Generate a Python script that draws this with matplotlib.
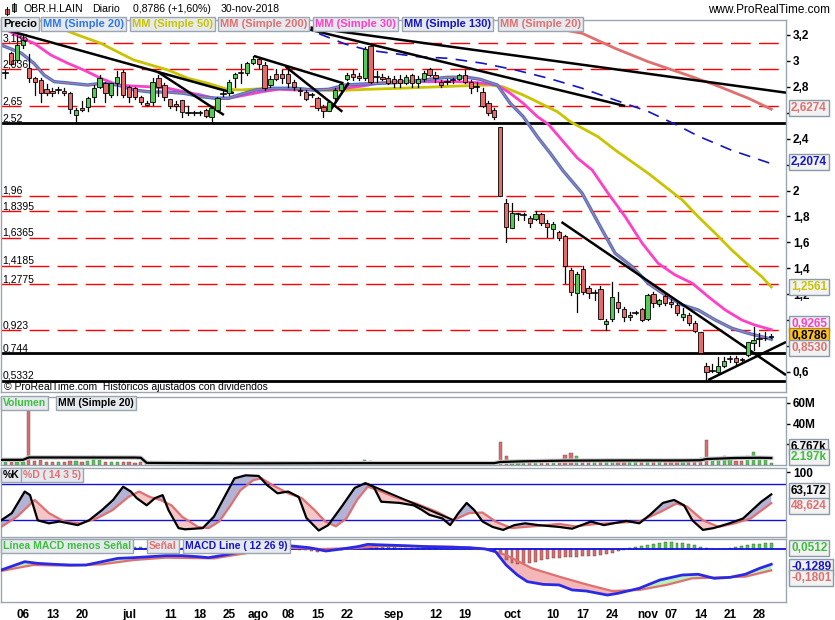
import numpy as np
import matplotlib
matplotlib.use('Agg')
import matplotlib.pyplot as plt
from matplotlib.patches import Rectangle

# ---------------- DATA ----------------
title_sym = "OBR.H.LAIN"
title_period = "Diario"
title_price = "0,8786 (+1,60%)"
title_date = "30-nov-2018"

# bar index 0 = 1-jun-2018 ... 130 = 30-nov-2018
tick_idx = [3, 8, 13, 21, 28, 33, 38, 43, 48, 53, 58, 66, 73, 78, 86, 93, 98, 103, 109, 113, 118, 123, 128]
tick_lbl = ["06", "13", "20", "jul", "11", "18", "25", "ago", "08", "15", "22", "sep", "12", "19",
            "oct", "10", "17", "24", "nov", "07", "14", "21", "28"]

opens = [2.904, 3.06, 3.007, 3.12, 2.943, 2.866, 2.853, 2.781, 2.77, 2.776, 2.77, 2.75, 2.583, 2.64, 2.647,
         2.724, 2.801, 2.827, 2.737, 2.827, 2.917, 2.801, 2.79, 2.724, 2.678, 2.686, 2.866, 2.814, 2.704, 2.665,
         2.698, 2.596, 2.596, 2.60, 2.621, 2.57, 2.621, 2.745, 2.75, 2.866, 2.904, 2.904, 2.982, 3.013, 2.968,
         2.814, 2.899, 2.899, 2.899, 2.84, 2.775, 2.763, 2.737, 2.716, 2.642, 2.616, 2.712, 2.776, 2.858, 2.899,
         2.88, 2.866, 3.115, 2.878, 2.878, 2.866, 2.858, 2.858, 2.832, 2.891, 2.832, 2.858, 2.935, 2.891, 2.84,
         2.84, 2.85, 2.858, 2.891, 2.84, 2.80, 2.763, 2.673, 2.621, 2.488, 1.901, 1.708, 1.818, 1.81, 1.786,
         1.778, 1.819, 1.752, 1.701, 1.68, 1.652, 1.387, 1.207, 1.392, 1.245, 1.21, 1.239, 0.97, 1.009, 1.142,
         1.084, 1.022, 1.058, 1.084, 1.007, 1.202, 1.124, 1.189, 1.142, 1.117, 1.027, 1.04, 0.981, 0.908, 0.646,
         0.607, 0.597, 0.648, 0.698, 0.706, 0.70, 0.731, 0.821, 0.854, 0.86, 0.872]
highs = [2.93, 3.07, 3.19, 3.19, 3.05, 2.875, 2.87, 2.82, 2.79, 2.80, 2.79, 2.76, 2.64, 2.69, 2.725,
         2.815, 2.89, 2.84, 2.83, 2.92, 2.93, 2.81, 2.80, 2.73, 2.69, 2.866, 2.89, 2.83, 2.71, 2.69,
         2.70, 2.65, 2.61, 2.615, 2.63, 2.645, 2.72, 2.77, 2.85, 2.91, 2.98, 2.99, 3.035, 3.02, 2.99,
         2.88, 2.94, 2.93, 2.93, 2.855, 2.79, 2.776, 2.75, 2.724, 2.66, 2.70, 2.79, 2.83, 2.91, 2.93,
         2.91, 3.11, 3.13, 2.92, 2.90, 2.88, 2.88, 2.89, 2.89, 2.90, 2.88, 2.92, 2.945, 2.915, 2.855,
         2.86, 2.87, 2.90, 2.93, 2.85, 2.84, 2.79, 2.69, 2.635, 2.488, 1.934, 1.906, 1.83, 1.83, 1.80,
         1.84, 1.83, 1.77, 1.76, 1.685, 1.66, 1.40, 1.37, 1.415, 1.26, 1.235, 1.26, 1.01, 1.298, 1.22,
         1.10, 1.065, 1.07, 1.09, 1.20, 1.22, 1.165, 1.20, 1.16, 1.135, 1.09, 1.055, 0.99, 0.91, 0.67,
         0.66, 0.713, 0.715, 0.72, 0.72, 0.71, 0.833, 0.95, 0.90, 0.91, 0.89]
lows = [2.866, 2.97, 2.99, 3.10, 2.84, 2.737, 2.686, 2.74, 2.73, 2.75, 2.74, 2.596, 2.519, 2.615, 2.61,
        2.68, 2.79, 2.686, 2.72, 2.74, 2.72, 2.686, 2.71, 2.67, 2.65, 2.66, 2.73, 2.70, 2.64, 2.62,
        2.57, 2.58, 2.58, 2.585, 2.57, 2.525, 2.61, 2.73, 2.737, 2.80, 2.83, 2.89, 2.98, 2.945, 2.776,
        2.80, 2.85, 2.83, 2.80, 2.776, 2.74, 2.70, 2.72, 2.62, 2.57, 2.61, 2.69, 2.77, 2.85, 2.85,
        2.85, 2.85, 2.83, 2.84, 2.85, 2.82, 2.80, 2.80, 2.82, 2.80, 2.80, 2.845, 2.88, 2.84, 2.80,
        2.82, 2.83, 2.85, 2.83, 2.75, 2.765, 2.645, 2.585, 2.55, 1.958, 1.605, 1.708, 1.77, 1.77, 1.72,
        1.77, 1.735, 1.644, 1.645, 1.62, 1.284, 1.195, 1.065, 1.205, 1.17, 1.155, 1.005, 0.924, 0.99, 1.06,
        0.99, 1.0, 1.045, 0.995, 1.0, 1.10, 1.11, 1.12, 1.10, 1.04, 1.0, 0.96, 0.91, 0.744, 0.538,
        0.60, 0.59, 0.64, 0.68, 0.66, 0.685, 0.72, 0.77, 0.80, 0.85, 0.86]
closes = [2.904, 2.98, 3.123, 3.16, 2.866, 2.835, 2.75, 2.75, 2.755, 2.776, 2.755, 2.627, 2.621, 2.625, 2.712,
          2.789, 2.866, 2.75, 2.827, 2.878, 2.737, 2.724, 2.724, 2.686, 2.66, 2.84, 2.801, 2.724, 2.652, 2.65,
          2.608, 2.596, 2.596, 2.60, 2.575, 2.634, 2.712, 2.745, 2.84, 2.899, 2.904, 2.982, 3.013, 2.976, 2.789,
          2.858, 2.858, 2.866, 2.827, 2.801, 2.765, 2.706, 2.737, 2.634, 2.616, 2.686, 2.776, 2.822, 2.891, 2.878,
          2.865, 3.092, 2.84, 2.878, 2.86, 2.83, 2.832, 2.832, 2.878, 2.827, 2.858, 2.904, 2.891, 2.866, 2.814,
          2.84, 2.85, 2.891, 2.84, 2.789, 2.80, 2.652, 2.596, 2.565, 1.958, 1.716, 1.829, 1.818, 1.81, 1.747,
          1.819, 1.747, 1.716, 1.742, 1.63, 1.418, 1.215, 1.356, 1.22, 1.212, 1.21, 1.009, 0.993, 1.176, 1.091,
          1.022, 1.04, 1.058, 1.001, 1.194, 1.13, 1.155, 1.135, 1.122, 1.053, 1.046, 0.975, 0.916, 0.744, 0.602,
          0.607, 0.646, 0.685, 0.698, 0.675, 0.69, 0.829, 0.847, 0.854, 0.865, 0.8786]

volumes = [2.5, 3.0, 2.5, 2.8, 53, 4, 5, 3, 2.5, 3, 2.5, 4, 3.5, 3, 3.5, 9, 5, 3, 3, 2.5, 3, 2.5, 2, 2.5,
           1.2, 1.0, 1.5, 1.2, 1.0, 0.8, 1.4, 0.9, 0.7, 0.8, 1.1, 1.6, 1.3, 0.9, 1.0, 1.2, 0.8, 1.5, 1.0, 0.9,
           1.3, 1.1, 0.7, 0.9, 1.0, 1.2, 0.8, 0.9, 1.4, 1.1, 0.8, 1.0, 1.2, 0.9, 1.3, 1.0,
           1.5, 5, 4, 2,
           1.2, 1.0, 1.4, 0.9, 1.1, 1.3, 1.0, 1.5, 1.2, 0.9, 1.0, 1.1, 0.8, 1.2, 1.4, 1.0, 1.6, 1.8, 2.0, 2.2,
           22.5, 9, 4, 2.5, 2, 2.5, 2.5, 3, 3, 3.5, 5, 10, 12, 9, 5, 4, 3.5, 5, 6, 5, 4, 3.5, 3, 3, 4, 6, 4, 3,
           3.5, 3, 4, 3.5, 4, 5, 7, 24, 7, 6, 9, 5, 4, 4, 9, 13, 8, 5, 2.2]
volma_i = [-0.7, 3, 4, 22, 23, 24, 40, 60, 83, 84, 88, 95, 105, 115, 118, 119, 124, 128, 130]
volma_v = [5.0, 5.0, 7.3, 7.2, 7.0, 2.0, 1.6, 1.8, 1.8, 2.9, 3.6, 4.2, 4.4, 4.4, 4.6, 5.8, 6.8, 7.0, 6.77]

# moving averages (bar position, value)
ma20_i = [-0.7, 2.7, 4.9, 6.6, 8.3, 10.6, 14.0, 16.2, 19.1, 21.8, 24.7, 27.6, 30.3, 33.2, 35.7, 37.9, 39.6,
          42.5, 45.4, 49.3, 52.2, 54.9, 57.7, 60.6, 63.3, 66.2, 71.0, 75.0, 78.4, 80.6, 82.3, 83.5, 85.7, 87.9,
          90.3, 92.5, 94.7, 97.9, 101.3, 103.5, 106.4, 109.1, 112.0, 114.9, 117.6, 120.5, 123.3, 126.1, 128.4, 130]
ma20_v = [3.123, 3.06, 2.98, 2.89, 2.84, 2.83, 2.814, 2.827, 2.814, 2.776, 2.76, 2.76, 2.75, 2.724, 2.712,
          2.712, 2.737, 2.776, 2.789, 2.789, 2.776, 2.781, 2.814, 2.822, 2.827, 2.832, 2.853, 2.874, 2.874, 2.858,
          2.832, 2.814, 2.673, 2.57, 2.415, 2.287, 2.15, 1.979, 1.695, 1.516, 1.412, 1.284, 1.194, 1.117, 1.078,
          1.001, 0.937, 0.898, 0.872, 0.853]
ma30_i = [-0.7, 3.2, 4.9, 7.7, 10.6, 13.3, 16.2, 19.1, 21.8, 24.7, 27.6, 30.3, 33.2, 35.4, 37.9, 40.8, 43.7,
          46.4, 49.3, 52.2, 54.9, 57.7, 60.6, 63.3, 66.2, 71.0, 76.7, 80.1, 83.5, 85.7, 87.9, 90.3, 92.2, 95.4,
          97.1, 99.6, 102.3, 105.2, 108.1, 110.8, 113.7, 116.6, 119.3, 122.2, 125.0, 127.2, 130]
ma30_v = [3.26, 3.167, 3.136, 3.046, 2.982, 2.93, 2.866, 2.814, 2.806, 2.80, 2.789, 2.763, 2.737, 2.712, 2.712,
          2.737, 2.763, 2.781, 2.776, 2.776, 2.781, 2.789, 2.806, 2.827, 2.84, 2.84, 2.84, 2.832, 2.814, 2.75,
          2.673, 2.57, 2.51, 2.34, 2.25, 2.158, 1.979, 1.798, 1.593, 1.438, 1.348, 1.284, 1.181, 1.078, 1.001,
          0.962, 0.9265]
ma50_i = [-0.7, 6.0, 12.3, 16.2, 21.8, 27.6, 31.0, 34.4, 37.7, 40.0, 44.5, 50.1, 55.7, 61.5, 67.1, 71.0, 76.7,
          82.3, 84.5, 87.9, 90.8, 93.7, 95.9, 100.6, 103.5, 109.1, 114.9, 117.6, 120.5, 123.3, 126.1, 128.4, 130]
ma50_v = [3.42, 3.31, 3.2, 3.136, 3.007, 2.93, 2.866, 2.827, 2.781, 2.776, 2.789, 2.781, 2.77, 2.781, 2.789,
          2.796, 2.806, 2.814, 2.80, 2.737, 2.673, 2.608, 2.531, 2.415, 2.313, 2.133, 1.927, 1.798, 1.67, 1.541,
          1.425, 1.335, 1.2561]
ma200_i = [75, 80.6, 84.0, 97.9, 103.5, 109.1, 114.9, 120.5, 126.1, 130]
ma200_v = [3.45, 3.37, 3.33, 3.213, 3.097, 2.994, 2.904, 2.814, 2.712, 2.6274]
ma130_i = [50.1, 53.8, 57.7, 61.5, 69.9, 75.2, 81.0, 86.6, 92.2, 97.9, 103.5, 109.1, 114.2, 117.6, 123.3, 130]
ma130_v = [3.27, 3.2, 3.13, 3.084, 3.033, 3.02, 2.982, 2.93, 2.866, 2.789, 2.698, 2.61, 2.50, 2.42, 2.31, 2.2074]

# horizontal levels
dash_levels = [3.136, 2.936, 2.65, 1.96, 1.8395, 1.6365, 1.4185, 1.2775, 0.923]
solid_levels = [2.52, 0.744, 0.5332]
level_labels = {3.136: "3,136", 2.936: "2,936", 2.65: "2,65", 2.52: "2,52", 1.96: "1,96", 1.8395: "1,8395",
                1.6365: "1,6365", 1.4185: "1,4185", 1.2775: "1,2775", 0.923: "0,923", 0.744: "0,744",
                0.5332: "0,5332"}

# price axis ticks (labels hidden where the value boxes cover them in the original)
price_ticks = [3.2, 3.0, 2.8, 2.6, 2.4, 2.2, 2.0, 1.8, 1.6, 1.4, 1.2, 1.0, 0.8, 0.6]
price_tick_lbl = ["3,2", "3", "2,8", "", "2,4", "", "2", "1,8", "1,6", "1,4", "1,2", "", "", "0,6"]

# trend lines ((i0, p0), (i1, p1))
trendlines = [((-0.7, 3.25), (38.8, 2.752)), ((25.9, 2.915), (37.1, 2.583)), ((42.2, 3.038), (57.4, 2.827)),
              ((47.6, 2.955), (57.2, 2.608)), ((55.2, 2.621), (58.3, 2.833)), ((51.8, 3.258), (132.5, 2.755)),
              ((51.8, 3.24), (105.2, 2.652)), ((94.4, 1.757), (132.5, 0.576)), ((119.3, 0.538), (132.5, 0.831))]

# stochastic
k_i = [-0.7, 1.1, 3.3, 4.2, 5.5, 7.4, 9.2, 12.3, 14.2, 16.4, 18.3, 20, 21.3, 22.3, 24, 25.4, 26.7, 27.7, 29.4,
       30.5, 33.5, 35.4, 37.2, 38.9, 40.8, 43, 44.4, 46.2, 48, 49.8, 51.1, 53.2, 54.8, 57.1, 59.3, 61.1, 62.5,
       63.8, 66.9, 69.3, 70.6, 72, 74.2, 75.5, 76.9, 78.3, 79.6, 81, 82.7, 84.5, 86.4, 88.2, 90.5, 94, 96.2, 99.4,
       101.6, 105.4, 107.6, 109.4, 111.6, 113.5, 115.2, 116.6, 118.4, 120.2, 122.9, 125.2, 128.3, 130]
k_v = [20, 32, 68, 62, 20, 15, 18, 12, 20, 37, 54, 76, 68, 57, 45, 57, 62, 37, 7, 5, 7, 26, 59, 90, 95, 94, 79,
       65, 68, 59, 24, 3, 12, 43, 74, 82, 76, 51, 49, 45, 38, 29, 23, 12, 32, 49, 37, 18, 9, 4, 12, 15, 12, 9, 6,
       18, 12, 19, 15, 29, 49, 54, 45, 20, 4, 7, 15, 23, 51, 63.172]
d_i = [-0.7, 2, 5, 7.4, 10, 12.8, 15.5, 18.2, 20.9, 22.7, 24.5, 26.3, 28.2, 30, 32.7, 34.5, 36.3, 38.1, 39.9,
       42.1, 43.5, 45.3, 48, 50.3, 52.5, 54.3, 56.1, 57.9, 59.7, 61.5, 63.3, 66, 69.7, 73.3, 76, 78.7, 81, 83.2,
       85.9, 89.5, 94, 96.7, 100.4, 104, 107.6, 111.2, 113.9, 115.7, 118.4, 121.1, 123.8, 126.5, 130]
d_v = [9, 26, 54, 32, 18, 15, 23, 37, 59, 68, 59, 54, 45, 26, 9, 7, 18, 43, 70, 87, 90, 79, 65, 57, 37, 18, 10,
       23, 54, 76, 70, 59, 48, 34, 20, 32, 33, 18, 7, 10, 14, 10, 14, 16, 18, 34, 48, 43, 20, 9, 15, 23, 48.624]
stoch_trend = ((61.5, 80.5), (76, 20.5))

# MACD
macd_i = [-0.7, 3.3, 5.5, 8.3, 11, 13.7, 16.4, 19.1, 21.8, 24.5, 27.2, 30, 32.7, 34.5, 37.2, 40.8, 44.4, 48.1,
          51.6, 54.4, 57.1, 59.8, 61.5, 64.2, 67.9, 71.5, 76, 78.8, 81.5, 83.2, 85, 86.9, 88.6, 91.3, 94, 96.2,
          98.6, 102.2, 104, 107.6, 111.1, 114.9, 117.6, 120.3, 123, 125.6, 128, 130]
macd_v = [-0.177, -0.107, -0.121, -0.129, -0.135, -0.135, -0.107, -0.079, -0.073, -0.065, -0.056, -0.056, -0.065,
          -0.073, -0.051, -0.017, 0.011, 0.028, 0.011, -0.017, 0.0, 0.02, 0.039, 0.034, 0.028, 0.02, 0.014, 0.011,
          0.0, -0.022, -0.135, -0.219, -0.275, -0.298, -0.303, -0.345, -0.354, -0.388, -0.373, -0.331, -0.261,
          -0.219, -0.213, -0.247, -0.239, -0.213, -0.163, -0.1289]
sig_i = [-0.7, 4.7, 11, 16.4, 21.8, 27.2, 35.4, 40.8, 48.1, 53.5, 58.8, 64.2, 76, 81.5, 85, 89.4, 94, 98.6, 103,
         107.6, 112.2, 116.6, 120.3, 125.6, 130]
sig_v = [-0.185, -0.135, -0.14, -0.129, -0.093, -0.073, -0.079, -0.036, 0.011, 0.0, 0.006, 0.025, 0.02, 0.0,
         -0.051, -0.163, -0.233, -0.298, -0.354, -0.345, -0.303, -0.247, -0.241, -0.233, -0.1801]
hist = [0.008, 0.03, 0.04, 0.045, 0.04, 0.03, 0.02, 0.015, 0.01, 0.005, 0.0, 0.0, -0.002, 0.0, 0.01, 0.02,
        0.025, 0.03, 0.03, 0.025, 0.02, 0.02, 0.02, 0.015, 0.01, 0.01, 0.01, 0.015, 0.01, 0.01, 0.005, 0.0,
        -0.005, -0.008, -0.006, 0.0, 0.01, 0.025, 0.03, 0.035, 0.035, 0.03, 0.03, 0.025, 0.02, 0.02, 0.018,
        0.015, 0.01, 0.005,
        -0.005, -0.012, -0.018, -0.022, -0.02, -0.015, -0.012, -0.008, -0.004, 0.004,
        0.008, 0.015, 0.02, 0.02, 0.018, 0.016, 0.014, 0.012, 0.01, 0.01, 0.008, 0.006, 0.006, 0.006, 0.004,
        0.002, 0.002, -0.002, 0.002, -0.002, 0.001, -0.002, -0.004,
        -0.01, -0.045, -0.09, -0.12, -0.13, -0.13, -0.12, -0.11, -0.095, -0.085, -0.08, -0.075, -0.07, -0.068,
        -0.065, -0.062, -0.058, -0.055, -0.05, -0.045, -0.035, -0.02, -0.005,
        0.006, 0.014, 0.025, 0.035, 0.045, 0.052, 0.056, 0.056, 0.054, 0.048, 0.04, 0.03, 0.017, 0.008,
        0.004, -0.004, -0.003, 0.006, 0.014, 0.022, 0.03, 0.038, 0.045, 0.05, 0.0512]

# ---------------- STYLE / LAYOUT ----------------
W, H = 835, 620
XMIN, XMAX = -0.73, 132.5
GREEN = '#55c855'
RED = '#e26b6b'
SALMON = '#e07070'
BLUE20 = '#2f78e6'
YELLOW = '#c9c400'
MAGENTA = '#ff3fc8'
DBLUE = '#1414c8'
FRAME = '#9aa5b0'
BOXBG = '#e6eaef'

plt.rcParams['font.family'] = ['Liberation Sans', 'DejaVu Sans']
fig = plt.figure(figsize=(W / 100, H / 100), dpi=100)
fig.patch.set_facecolor('white')


def px_axes(l, t, r, b):
    ax = fig.add_axes([l / W, 1 - b / H, (r - l) / W, (b - t) / H])
    for s in ax.spines.values():
        s.set_color(FRAME)
        s.set_linewidth(1)
    ax.set_xlim(XMIN, XMAX)
    ax.tick_params(axis='x', bottom=False, labelbottom=False)
    ax.yaxis.tick_right()
    ax.tick_params(axis='y', right=True, length=3, width=1, colors='black', labelsize=8.5, pad=2)
    return ax


def ftext(x, y, s, **kw):
    return fig.text(x / W, 1 - y / H, s, **kw)


def legend_box(x, y, s, color, size=8):
    ftext(x + 2, y, s, color=color, fontsize=size, fontweight='bold', va='center', ha='left', zorder=20,
          bbox=dict(boxstyle='square,pad=0.2', fc=BOXBG, ec=FRAME, lw=1))


def value_box(y, s, color, bg='#f2f2f2', edge='#8b9aa8'):
    ftext(791, y, s, color=color, fontsize=8.5, fontweight='bold', va='center', ha='left', zorder=20,
          bbox=dict(boxstyle='square,pad=0.15', fc=bg, ec=edge, lw=1))

# ---------------- PRICE ----------------
axp = px_axes(1, 20, 786, 392)
axp.set_ylim(0.4454, 3.3157)
axp.set_yticks(price_ticks, price_tick_lbl, fontweight='bold')

for lv in dash_levels:
    axp.axhline(lv, color='#ff0000', lw=1.0, dashes=(14.2, 6), zorder=1)
for lv in solid_levels:
    axp.axhline(lv, color='black', lw=2.0, zorder=2)
for lv, s in level_labels.items():
    axp.text(0.002, lv, s, transform=axp.get_yaxis_transform(), fontsize=7.5, va='bottom', ha='left',
             color='black', zorder=6)

axp.plot(ma200_i, ma200_v, color=SALMON, lw=2.0, zorder=2)
axp.plot(ma130_i, ma130_v, color=DBLUE, lw=1.2, dashes=(7, 5), zorder=2)
axp.plot(ma50_i, ma50_v, color=YELLOW, lw=2.0, zorder=2)
axp.plot(ma30_i, ma30_v, color=MAGENTA, lw=2.0, zorder=2)
axp.plot(ma20_i, ma20_v, color=BLUE20, lw=2.4, zorder=2)
axp.plot(ma20_i, ma20_v, color=SALMON, lw=0.8, zorder=2)

for (a, b) in trendlines:
    axp.plot([a[0], b[0]], [a[1], b[1]], color='black', lw=1.8, zorder=3, solid_capstyle='butt')

for i in range(len(opens)):
    o, h, l, c = opens[i], highs[i], lows[i], closes[i]
    axp.plot([i, i], [l, h], color='black', lw=0.9, zorder=4)
    if abs(c - o) < 1e-9:
        axp.plot([i - 0.4, i + 0.4], [c, c], color='black', lw=1.2, zorder=5)
    else:
        col = GREEN if c > o else RED
        axp.add_patch(Rectangle((i - 0.36, min(o, c)), 0.72, abs(c - o), fc=col, ec='black', lw=0.6, zorder=5))

axp.text(0.004, 0.0, "\u00a9 ProRealTime.com  Hist\u00f3ricos ajustados con dividendos",
         transform=axp.transAxes, fontsize=7.5, va='bottom', ha='left', zorder=6)

# ---------------- VOLUME ----------------
axv = px_axes(1, 397, 786, 465)
axv.set_ylim(0, 65.8)
axv.set_yticks([20, 40, 60], ['20M', '40M', '60M'], fontweight='bold')
vcol = [GREEN if closes[i] >= opens[i] else RED for i in range(len(volumes))]
axv.bar(range(len(volumes)), volumes, width=0.55, color=vcol, edgecolor='#555555', lw=0.3, zorder=2)
axv.plot(volma_i, volma_v, color='#c8c8c8', lw=3.2, zorder=3)
axv.plot(volma_i, volma_v, color='black', lw=1.6, zorder=4)

# ---------------- STOCHASTIC ----------------
axs = px_axes(1, 468, 786, 537)
axs.set_ylim(-7.8, 107.2)
axs.set_yticks([100], ['100'], fontweight='bold')
gx = np.linspace(-0.7, 130, 2000)
gk = np.interp(gx, k_i, k_v)
gd = np.interp(gx, d_i, d_v)
axs.fill_between(gx, gk, gd, where=gk >= gd, color='#b3b3d6', interpolate=True, zorder=1, lw=0)
axs.fill_between(gx, gk, gd, where=gk < gd, color='#f5c6c6', interpolate=True, zorder=1, lw=0)
axs.axhline(80, color='#1010e0', lw=1.0, zorder=2)
axs.axhline(20, color='#1010e0', lw=1.0, zorder=2)
axs.plot(d_i, d_v, color=SALMON, lw=1.6, zorder=3)
axs.plot(k_i, k_v, color='black', lw=1.6, zorder=4)
axs.plot([stoch_trend[0][0], stoch_trend[1][0]], [stoch_trend[0][1], stoch_trend[1][1]], color='black', lw=1.4,
         zorder=4)

# ---------------- MACD ----------------
axm = px_axes(1, 539, 786, 602)
axm.set_ylim(-0.4465, 0.0842)
axm.set_yticks([])
gm = np.interp(gx, macd_i, macd_v)
gs = np.interp(gx, sig_i, sig_v)
axm.fill_between(gx, gm, gs, where=gm >= gs, color='#b9f0b9', interpolate=True, zorder=1, lw=0)
axm.fill_between(gx, gm, gs, where=gm < gs, color='#f4b6b6', interpolate=True, zorder=1, lw=0)
hcol = [GREEN if v >= 0 else RED for v in hist]
axm.bar(range(len(hist)), hist, width=0.5, color=hcol, edgecolor='#444444', lw=0.3, zorder=2)
axm.axhline(0, color='#1010e0', lw=1.3, zorder=3)
axm.plot(sig_i, sig_v, color=SALMON, lw=1.6, zorder=4)
axm.plot(macd_i, macd_v, color='#2a2ae6', lw=2.0, zorder=5)
axm.set_xticks(tick_idx)
axm.set_xticklabels(tick_lbl, fontweight='bold', fontsize=8.5)
axm.tick_params(axis='x', bottom=True, labelbottom=True, length=0, pad=5)

# ---------------- TEXT / LEGENDS ----------------
axi = fig.add_axes([3 / W, 1 - 17 / H, 15 / W, 15 / H])
axi.set_xlim(0, 15)
axi.set_ylim(0, 15)
axi.axis('off')
axi.plot([4, 4], [2, 10], color='black', lw=0.8)
axi.add_patch(Rectangle((2, 3), 4, 5, fc=RED, ec='black', lw=0.5))
axi.plot([11, 11], [5, 14], color='black', lw=0.8)
axi.add_patch(Rectangle((9, 6), 4, 7, fc=GREEN, ec='black', lw=0.5))

ftext(23, 9, title_sym, fontsize=7.6, va='center', ha='left')
ftext(92, 9, title_period, fontsize=7.6, va='center', ha='left')
ftext(133, 9, title_price, fontsize=7.6, va='center', ha='left')
ftext(221, 9, title_date, fontsize=7.6, va='center', ha='left')
ftext(830, 10, "www.ProRealTime.com", fontsize=8.5, va='center', ha='right')

legend_box(1, 24, "Precio", 'black')
legend_box(41, 24, "MM (Simple 20)", BLUE20)
legend_box(130, 24, "MM (Simple 50)", YELLOW)
legend_box(218, 24, "MM (Simple 200)", SALMON)
legend_box(313, 24, "MM (Simple 30)", MAGENTA)
legend_box(402, 24, "MM (Simple 130)", DBLUE)
legend_box(498, 24, "MM (Simple 20)", SALMON)

legend_box(1, 403, "Volumen", '#3cbf3c', size=7.5)
legend_box(56, 403, "MM (Simple 20)", 'black', size=7.5)
legend_box(1, 475, "%K", 'black', size=7.5)
legend_box(21, 475, "%D ( 14 3 5)", SALMON, size=7.5)
legend_box(1, 546, "L\u00ednea MACD menos Se\u00f1al", '#3cbf3c', size=7.5)
legend_box(147, 546, "Se\u00f1al", SALMON, size=7.5)
legend_box(183, 546, "MACD Line ( 12 26 9)", DBLUE, size=7.5)

value_box(108, "2,6274", SALMON)
value_box(162, "2,2074", DBLUE)
value_box(287, "1,2561", YELLOW)
value_box(324, "0,9265", MAGENTA)
value_box(336, "0,8786", 'black', bg='#ffc21a', edge='#b08a20')
value_box(348, "0,8530", SALMON)
value_box(447, "6.767k", 'black')
value_box(457, "2.197k", '#3cbf3c')
value_box(491, "63,172", 'black')
value_box(506, "48,624", SALMON)
value_box(548, "0,0512", '#3cbf3c')
value_box(567, "-0,1289", DBLUE)
value_box(578, "-0,1801", SALMON)

fig.savefig('out.png', dpi=100)
